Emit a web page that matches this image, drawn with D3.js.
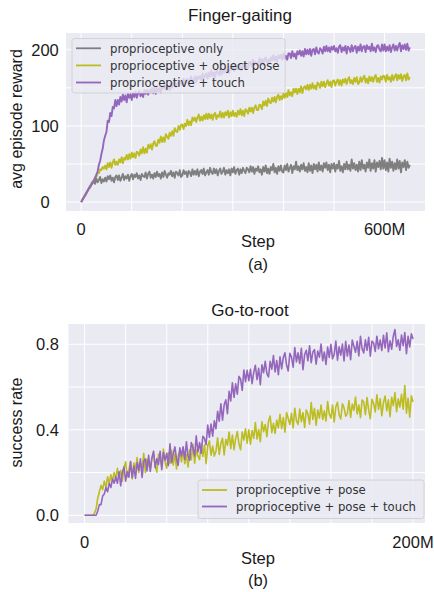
<!DOCTYPE html>
<html>
<head>
<meta charset="utf-8">
<script src="https://cdn.jsdelivr.net/npm/d3@7"></script>
<style>
body { margin: 0; background: #fff; }
text { font-family: "Liberation Sans", Arial, sans-serif; fill: #1a1a1a; }
.legend text { font-family: "DejaVu Sans", sans-serif; fill: #333; }
</style>
</head>
<body>
<div id="chart"></div>
<script>
// ---- (a) Finger-gaiting: reward read every 2.5M steps, 0..650M
let fg_step = 2.5;
let fg_only = [
    0,3,6,8,11,14,17,19,22,25,27,24,31,26,29,33,25,30,27,32,
    27,34,30,35,28,32,26,33,35,29,35,28,32,37,29,34,31,36,28,34,
    37,30,36,33,38,31,35,29,37,34,33,39,31,37,40,32,36,31,38,33,
    40,34,37,31,39,33,41,36,32,38,36,41,34,39,32,40,38,35,42,33,
    35,42,37,40,33,41,39,34,43,36,41,36,43,34,40,42,37,44,35,39,
    42,36,45,39,37,44,38,43,35,41,44,37,40,45,36,42,38,43,35,44,
    39,46,37,42,44,36,43,38,45,41,38,45,43,39,47,40,46,37,44,41,
    47,39,43,36,46,40,48,38,44,37,46,42,50,39,45,37,47,41,48,40,
    39,48,42,50,40,45,49,38,47,43,53,42,47,40,49,43,51,41,46,39,
    51,41,48,38,50,43,49,40,52,42,48,40,51,45,52,42,49,39,50,44,
    51,40,49,44,54,41,47,39,50,43,53,43,49,41,56,44,51,42,49,40,
    53,42,55,44,49,40,52,45,56,41,51,44,55,40,52,46,54,43,58,44,
    55,42,52,40,57,45,53,41,51,43,56,44,54,39,52,46,55,42,53,45,
    49];
let fg_pose = [
    0,3,6,9,12,15,18,21,24,27,29,33,33,38,38,43,42,46,44,48,
    43,51,46,52,45,52,56,49,53,49,56,52,59,51,58,56,62,56,63,57,
    65,59,64,58,66,65,61,69,64,72,64,70,65,75,71,76,69,77,80,74,
    74,82,78,86,79,85,79,89,86,83,91,87,93,87,97,93,92,100,95,101,
    102,96,103,100,108,101,106,101,111,107,111,105,111,115,107,112,107,114,109,116,
    109,116,110,115,108,115,117,109,114,112,119,111,117,111,118,114,120,111,118,113,
    120,113,117,112,120,115,122,114,120,113,122,120,116,124,119,124,117,124,127,121,
    121,128,127,122,132,127,133,126,136,131,130,137,132,138,131,138,141,134,139,135,
    143,137,143,138,147,140,144,139,149,144,149,142,149,144,152,143,150,152,148,154,
    147,154,149,156,149,153,148,157,155,150,158,152,158,151,156,160,153,158,151,159,
    160,153,158,161,154,160,153,161,157,162,155,161,164,156,160,155,163,158,164,155,
    157,164,158,163,166,157,162,156,165,159,164,158,164,167,158,163,157,165,161,166,
    165,158,167,161,164,158,167,160,165,168,160,167,162,168,159,165,167,160,169,161,
    164];
let fg_touch = [
    0,3,6,9,12,15,18,21,23,26,28,31,36,40,49,54,63,70,81,87,
    92,107,105,117,113,125,123,134,126,134,128,138,132,141,134,140,131,142,137,142,
    134,143,138,145,137,143,146,139,143,138,147,142,147,141,147,144,150,143,150,142,
    151,145,150,144,152,149,155,147,153,150,147,157,150,157,159,151,156,153,160,155,
    154,162,153,161,162,156,161,165,157,159,165,157,165,162,165,160,169,162,166,169,
    162,170,165,173,165,170,164,173,171,167,174,167,173,170,177,170,174,169,177,174,
    178,172,181,175,174,181,178,173,181,178,183,177,175,184,183,178,187,181,184,181,
    180,189,182,188,180,188,190,183,187,183,190,186,193,186,191,184,193,189,193,187,
    195,188,192,187,195,195,189,198,191,195,188,198,194,199,192,198,191,201,194,200,
    194,201,192,200,201,194,203,197,195,202,200,195,204,198,205,198,203,197,204,200,
    205,198,202,196,204,206,197,203,199,205,195,204,202,197,206,198,203,205,196,204,
    199,207,198,204,205,197,206,201,204,198,208,199,203,197,205,206,200,198,207,199,
    207,198,204,199,206,197,203,207,199,205,199,205,209,198,206,201,207,200,208,199,
    203];
let fg_names = ["proprioceptive only", "proprioceptive + object pose", "proprioceptive + touch"];
let fg_xgrid = [0, 100, 200, 300, 400, 500, 600];
let fg_ygrid = [0, 50, 100, 150, 200];
let fg_xticks = [0, 600];
let fg_xlabels = ["0", "600M"];
let fg_yticks = [0, 100, 200];
let fg_ylabels = ["0", "100", "200"];

// ---- (b) Go-to-root: success rate read every 1M steps, 0..200M
let gr_step = 1;
let gr_pose = [
    0,0,0,0,0,0,0.01,0.03,0.08,0.11,0.14,0.12,0.16,0.13,0.18,0.15,0.19,0.16,0.2,0.17,
    .22,.175,.21,.16,.225,.25,.18,.215,.25,.17,.245,.217,.27,.2,.245,.217,.29,.2,.263,.235,
    .215,.267,.29,.23,.202,.285,.265,.227,.31,.25,.22,.292,.243,.304,.235,.286,.217,.278,.299,.25,
    .31,.242,.284,.226,.308,.26,.332,.244,.306,.278,.26,.333,.276,.329,.242,.325,.348,.281,.324,.277,
    .30,.362,.285,.337,.36,.282,.355,.327,.39,.312,.375,.307,.36,.392,.335,.307,.39,.352,.405,.337,
    .40,.333,.397,.36,.434,.357,.401,.344,.438,.391,.425,.368,.441,.464,.387,.43,.383,.446,.409,.472,
    .405,.457,.389,.481,.453,.425,.477,.409,.501,.443,.425,.497,.438,.48,.411,.493,.474,.426,.527,.449,
    .50,.422,.493,.455,.516,.448,.489,.441,.532,.474,.455,.516,.437,.508,.529,.47,.451,.522,.503,.464,
    .475,.537,.458,.52,.491,.553,.474,.516,.457,.539,.53,.471,.551,.492,.452,.543,.523,.484,.564,.495,
    .545,.466,.527,.558,.489,.54,.461,.552,.513,.574,.485,.545,.506,.566,.497,.607,.478,.548,.459,.559,
    .53];
let gr_touch = [
    0,0,0,0,0,0,0,0,0.02,0.05,0.05,0.09,0.1,0.13,0.11,0.15,0.13,0.17,0.15,0.18,
    .15,.204,.138,.202,.226,.16,.204,.178,.252,.176,.23,.173,.247,.21,.264,.177,.251,.264,.208,.281,
    .205,.268,.30,.223,.265,.238,.30,.213,.295,.258,.29,.232,.334,.246,.288,.32,.262,.234,.316,.278,
    .32,.262,.344,.276,.258,.34,.314,.278,.372,.296,.34,.29,.37,.36,.33,.422,.365,.427,.37,.442,
    .405,.487,.44,.522,.445,.517,.54,.475,.58,.535,.62,.552,.615,.567,.65,.637,.584,.68,.625,.678,
    .63,.683,.616,.669,.702,.635,.688,.611,.704,.667,.72,.663,.647,.72,.684,.747,.671,.724,.658,.741,
    .685,.738,.76,.703,.675,.758,.74,.693,.785,.718,.76,.71,.781,.681,.752,.772,.723,.793,.714,.764,
    .775,.707,.768,.74,.801,.723,.764,.706,.787,.739,.80,.732,.753,.815,.726,.788,.749,.801,.722,.814,
    .745,.797,.728,.82,.791,.763,.814,.746,.837,.779,.76,.821,.772,.833,.744,.815,.806,.767,.838,.779,
    .82,.771,.842,.783,.854,.765,.816,.777,.838,.869,.79,.821,.772,.843,.794,.855,.756,.837,.788,.849,
    .825];
let gr_names = ["proprioceptive + pose", "proprioceptive + pose + touch"];
let gr_xgrid = [0, 25, 50, 75, 100, 125, 150, 175, 200];
let gr_ygrid = [0, 0.2, 0.4, 0.6, 0.8];
let gr_xticks = [0, 200];
let gr_xlabels = ["0", "200M"];
let gr_yticks = [0, 0.4, 0.8];
let gr_ylabels = ["0.0", "0.4", "0.8"];

let gray = "#7f7f7f", olive = "#bcbd22", purple = "#9467bd";

let W = 434, H = 592;
let svg = d3.select("#chart").append("svg").attr("width", W).attr("height", H);

function toPoints(vals, step) {
    return vals.map((v, i) => [i * step, v]);
}

function drawPanel(p) {
    let g = svg.append("g");
    let x = d3.scaleLinear().domain(p.xdom).range([p.left, p.right]);
    let y = d3.scaleLinear().domain(p.ydom).range([p.bottom, p.top]);

    g.append("rect")
        .attr("x", p.left).attr("y", p.top)
        .attr("width", p.right - p.left).attr("height", p.bottom - p.top)
        .attr("fill", "#eaeaf2");

    // grid
    g.selectAll("line.vg").data(p.xgrid).enter().append("line")
        .attr("x1", d => x(d)).attr("x2", d => x(d))
        .attr("y1", p.top).attr("y2", p.bottom)
        .attr("stroke", "#fff").attr("stroke-width", 1);
    g.selectAll("line.hg").data(p.ygrid).enter().append("line")
        .attr("y1", d => y(d)).attr("y2", d => y(d))
        .attr("x1", p.left).attr("x2", p.right)
        .attr("stroke", "#fff").attr("stroke-width", 1);

    let line = d3.line().x(d => x(d[0])).y(d => y(d[1]));
    p.series.forEach(s => {
        g.append("path")
            .attr("d", line(toPoints(s.values, p.step)))
            .attr("fill", "none")
            .attr("stroke", s.color)
            .attr("stroke-width", p.lw)
            .attr("stroke-linejoin", "round");
    });

    // tick labels
    g.selectAll("text.xt").data(p.xticks).enter().append("text")
        .attr("x", d => x(d)).attr("y", p.xtickY)
        .attr("text-anchor", "middle").attr("font-size", 16.5)
        .text((d, i) => p.xlabels[i]);
    g.selectAll("text.yt").data(p.yticks).enter().append("text")
        .attr("x", p.ytickX).attr("y", d => y(d) + 6)
        .attr("text-anchor", "middle").attr("font-size", 16.5)
        .text((d, i) => p.ylabels[i]);

    g.append("text").attr("x", p.titleX).attr("y", p.titleY)
        .attr("text-anchor", "middle").attr("font-size", 17).text(p.title);
    g.append("text").attr("x", 258).attr("y", p.stepY)
        .attr("text-anchor", "middle").attr("font-size", 16.5).text("Step");
    g.append("text").attr("x", 258).attr("y", p.capY)
        .attr("text-anchor", "middle").attr("font-size", 16.5).text(p.caption);
    g.append("text")
        .attr("transform", `translate(21.5, ${p.ylabY}) rotate(-90)`)
        .attr("text-anchor", "middle").attr("font-size", 16).text(p.ylabel);

    // legend
    let lg = g.append("g").attr("class", "legend");
    let L = p.legend;
    lg.append("rect")
        .attr("x", L.x).attr("y", L.y).attr("width", L.w).attr("height", L.h)
        .attr("rx", 2.5)
        .attr("fill", "#eaeaf2").attr("fill-opacity", 0.8)
        .attr("stroke", "#cccccc").attr("stroke-width", 0.8);
    let rows = lg.selectAll("g.row").data(p.series).enter().append("g")
        .attr("transform", (d, i) => `translate(${L.x}, ${L.y + L.row0 + i * L.gap})`);
    rows.append("line")
        .attr("x1", 4).attr("x2", 29)
        .attr("stroke", d => d.color).attr("stroke-width", 1.8);
    rows.append("text")
        .attr("x", 38).attr("y", 4.2)
        .attr("font-size", 11.7)
        .text(d => d.name);
}

drawPanel({
    left: 66, right: 425, top: 33, bottom: 211,
    xdom: [-30, 680], ydom: [-11.7, 222],
    step: fg_step, lw: 1.9,
    xgrid: fg_xgrid, ygrid: fg_ygrid,
    xticks: fg_xticks, xlabels: fg_xlabels,
    yticks: fg_yticks, ylabels: fg_ylabels,
    xtickY: 235, ytickX: 45,
    title: "Finger-gaiting", titleX: 240, titleY: 20.5,
    stepY: 247, capY: 269.5, caption: "(a)",
    ylabel: "avg episode reward", ylabY: 119,
    series: [
        {name: fg_names[0], values: fg_only, color: gray},
        {name: fg_names[1], values: fg_pose, color: olive},
        {name: fg_names[2], values: fg_touch, color: purple}
    ],
    legend: {x: 72, y: 38.5, w: 213, h: 54.5, row0: 9.8, gap: 17.1}
});

drawPanel({
    left: 68.5, right: 425, top: 324, bottom: 523,
    xdom: [-9.8, 207.3], ydom: [-0.036, 0.895],
    step: gr_step, lw: 1.6,
    xgrid: gr_xgrid, ygrid: gr_ygrid,
    xticks: gr_xticks, xlabels: gr_xlabels,
    yticks: gr_yticks, ylabels: gr_ylabels,
    xtickY: 547.5, ytickX: 47.5,
    title: "Go-to-root", titleX: 250, titleY: 316,
    stepY: 563.5, capY: 586, caption: "(b)",
    ylabel: "success rate", ylabY: 422.5,
    series: [
        {name: gr_names[0], values: gr_pose, color: olive},
        {name: gr_names[1], values: gr_touch, color: purple}
    ],
    legend: {x: 198, y: 480, w: 226, h: 38.5, row0: 10, gap: 16.5}
});
</script>
</body>
</html>
